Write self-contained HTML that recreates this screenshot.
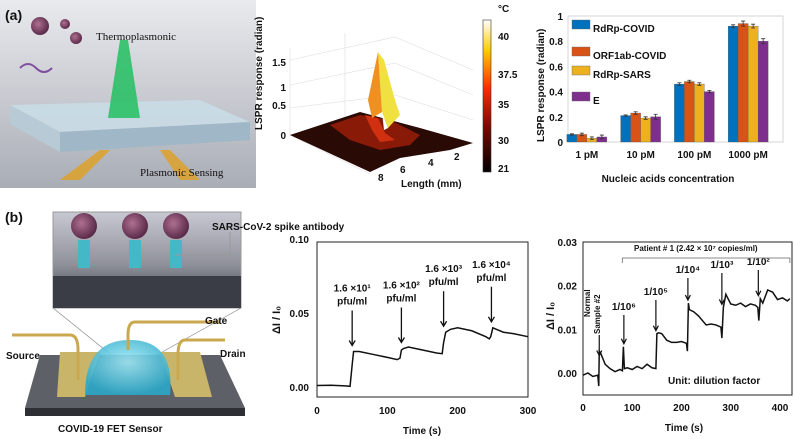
<!DOCTYPE html>
<html><head><meta charset="utf-8"><style>
html,body{margin:0;padding:0;background:#fff;width:794px;height:439px;overflow:hidden;font-family:"Liberation Sans",Arial,sans-serif}
svg{position:absolute;left:0;top:0}
text{font-family:"Liberation Sans",Arial,sans-serif;font-weight:bold;fill:#111}
</style></head><body>
<svg id="fig" width="794" height="439" viewBox="0 0 794 439">
<defs>
<linearGradient id="bgA" x1="0" y1="0" x2="0" y2="1"><stop offset="0" stop-color="#e9eaee"/><stop offset="1" stop-color="#a9adb5"/></linearGradient>
<linearGradient id="cbar" x1="0" y1="1" x2="0" y2="0"><stop offset="0" stop-color="#000"/><stop offset="0.3" stop-color="#7a0a00"/><stop offset="0.55" stop-color="#ff2a00"/><stop offset="0.8" stop-color="#ffcc00"/><stop offset="1" stop-color="#ffffff"/></linearGradient>
<linearGradient id="inset" x1="0" y1="0" x2="0" y2="1"><stop offset="0" stop-color="#c8c8d2"/><stop offset="0.55" stop-color="#8e909a"/><stop offset="1" stop-color="#3a3c44"/></linearGradient>
<radialGradient id="drop" cx="0.5" cy="0.4" r="0.6"><stop offset="0" stop-color="#9fe8f5"/><stop offset="1" stop-color="#2aa8c8"/></radialGradient>
<radialGradient id="vir" cx="0.4" cy="0.4" r="0.6"><stop offset="0" stop-color="#b07090"/><stop offset="1" stop-color="#5a2a4a"/></radialGradient>
</defs>

<g>
<rect x="0" y="0" width="256" height="188" fill="url(#bgA)"/>
<polygon points="10,105 200,100 250,122 60,132" fill="#c9dbe6" opacity="0.9"/>
<polygon points="60,132 250,122 250,140 60,152" fill="#9fb7c6"/>
<polygon points="10,105 60,132 60,152 10,124" fill="#b8cad6"/>
<polygon points="120,40 128,40 140,118 108,118" fill="#22c060" opacity="0.85"/>
<polygon points="60,180 80,180 110,150 100,150" fill="#e0a020" opacity="0.8"/>
<polygon points="180,180 200,180 170,150 160,150" fill="#e0a020" opacity="0.8"/>
<circle cx="40" cy="26" r="9" fill="url(#vir)"/><circle cx="65" cy="24" r="5" fill="url(#vir)"/><circle cx="76" cy="38" r="6" fill="url(#vir)"/>
<path d="M20 68 q8 -8 16 0 t16 0" stroke="#8050a0" stroke-width="2" fill="none"/>
<text x="5" y="20" font-size="14">(a)</text>
<text x="96" y="40" font-size="11" style="font-weight:normal;font-family:'Liberation Serif',serif" fill="#222">Thermoplasmonic</text>
<text x="140" y="176" font-size="11" style="font-weight:normal;font-family:'Liberation Serif',serif" fill="#222">Plasmonic Sensing</text>
</g>

<g>
<g stroke="#ddd" stroke-width="0.6" fill="none">
<line x1="290" y1="48" x2="290" y2="135"/><line x1="290" y1="135" x2="370" y2="174"/>
<line x1="290" y1="135" x2="395" y2="120"/><line x1="290" y1="108" x2="395" y2="95"/><line x1="290" y1="85" x2="395" y2="63"/><line x1="290" y1="60" x2="395" y2="37"/>
<line x1="395" y1="37" x2="473" y2="70"/><line x1="395" y1="63" x2="473" y2="95"/><line x1="395" y1="95" x2="473" y2="120"/>
<line x1="345" y1="33" x2="345" y2="120"/>
</g>
<polygon points="290,135 360,112 420,128 473,143 450,150 400,158 370,172" fill="#2a0a05"/>
<polygon points="330,125 360,115 390,120 420,135 410,145 380,150 350,140" fill="#8a1a08"/>
<polygon points="365,115 378,118 385,133 395,140 380,142 372,130" fill="#d03010"/>
<polygon points="378,52 384,60 395,100 400,115 388,128 382,112" fill="#f0e040"/>
<polygon points="378,52 382,112 372,118 368,100" fill="#f09020"/>
<polygon points="382,112 388,128 384,130" fill="#fff"/>
<text x="286" y="139" font-size="10" text-anchor="end">0</text>
<text x="286" y="109" font-size="10" text-anchor="end">0.5</text>
<text x="286" y="91" font-size="10" text-anchor="end">1</text>
<text x="286" y="66" font-size="10" text-anchor="end">1.5</text>
<text x="378" y="181" font-size="10">8</text><text x="400" y="173" font-size="10">6</text><text x="428" y="166" font-size="10">4</text><text x="454" y="160" font-size="10">2</text>
<text x="401" y="187" font-size="10">Length (mm)</text>
<text transform="translate(262,130) rotate(-90)" font-size="10">LSPR response  (radian)</text>
<rect x="483" y="20" width="8" height="152" fill="url(#cbar)" stroke="#333" stroke-width="0.6"/>
<text x="498" y="12" font-size="10">°C</text>
<text x="498" y="40" font-size="10">40</text><text x="498" y="78" font-size="10">37.5</text>
<text x="498" y="108" font-size="10">35</text><text x="498" y="144" font-size="10">30</text><text x="498" y="172" font-size="10">21</text>
</g>

<g id="bars"></g>

<g>
<text x="5" y="222" font-size="14">(b)</text>
<rect x="53" y="212" width="188" height="96" fill="url(#inset)" stroke="#999"/>
<rect x="53" y="276" width="188" height="32" fill="#3a3d46"/>
<g fill="url(#vir)"><circle cx="84" cy="226" r="13"/><circle cx="135" cy="226" r="13"/><circle cx="176" cy="226" r="13"/></g>
<g fill="#45b8c8"><rect x="78" y="240" width="12" height="28"/><rect x="129" y="240" width="12" height="28"/><rect x="170" y="240" width="12" height="28"/></g>
<polyline points="230,232 230,255 175,255" fill="none" stroke="#999"/>
<text x="212" y="230" font-size="10">SARS-CoV-2 spike antibody</text>
<line x1="53" y1="308" x2="130" y2="370" stroke="#888" stroke-width="0.7"/><line x1="241" y1="308" x2="130" y2="370" stroke="#888" stroke-width="0.7"/>
<polygon points="40,355 220,355 245,408 25,408" fill="#5e6068"/>
<rect x="25" y="408" width="220" height="8" fill="#2d2f35"/>
<polygon points="60,352 100,352 85,397 57,397" fill="#c9b56a"/>
<polygon points="160,352 200,352 212,397 175,397" fill="#c9b56a"/>
<path d="M85 395 Q85 340 130 340 Q175 340 170 395 Z" fill="url(#drop)" opacity="0.9"/>
<path d="M12 335 L70 335 Q78 335 78 350 L78 380" stroke="#c9a850" stroke-width="3" fill="none"/>
<path d="M225 340 L185 340 Q178 340 178 355 L178 380" stroke="#c9a850" stroke-width="3" fill="none"/>
<path d="M220 322 L135 322 Q128 322 128 335 L128 350" stroke="#c9a850" stroke-width="3" fill="none"/>
<text x="6" y="359" font-size="10">Source</text>
<text x="205" y="324" font-size="10">Gate</text>
<text x="220" y="357" font-size="10">Drain</text>
<text x="58" y="432" font-size="10">COVID-19 FET Sensor</text>
</g>

<g id="mid"></g>
<g id="right"></g>
</svg>
<script>
const NS="http://www.w3.org/2000/svg";
function mk(p,tag,a,txt){const e=document.createElementNS(NS,tag);for(const k in a)e.setAttribute(k,a[k]);if(txt!==undefined)e.textContent=txt;p.appendChild(e);return e;}
function peakNear(ts,vs,t0,t1){let m=-Infinity;ts.forEach((t,i)=>{if(t>=t0&&t<=t1&&vs[i]>m)m=vs[i];});return m;}

const barCategories=["1 pM","10 pM","100 pM","1000 pM"];
const seriesNames=["RdRp-COVID","ORF1ab-COVID","RdRp-SARS","E"];
const rdrpCovid=[0.06,0.21,0.46,0.92];
const orf1abCovid=[0.06,0.23,0.48,0.94];
const rdrpSars=[0.03,0.19,0.46,0.92];
const eGene=[0.04,0.20,0.40,0.80];
const barErrors=[[0.005,0.005,0.01,0.01],[0.01,0.01,0.01,0.02],[0.01,0.01,0.01,0.015],[0.015,0.02,0.01,0.02]];
const barTicks=[0,0.2,0.4,0.6,0.8,1];

const midTime=[0,20,40,47,50,52,60,80,100,114,118,120,123,130,150,170,178,180,183,190,200,220,240,245,247,250,255,265,280,300];
const midResp=[0.0010,0.0012,0.0008,0.0005,0.015,0.024,0.024,0.022,0.020,0.0185,0.0195,0.025,0.026,0.027,0.025,0.023,0.0225,0.030,0.037,0.039,0.040,0.038,0.034,0.0325,0.034,0.040,0.039,0.037,0.036,0.034];
const midXTicks=[0,100,200,300];
const midYTicks=[0.00,0.05,0.10];
const midLabels=[["1.6 ×10¹","pfu/ml",50],["1.6 ×10²","pfu/ml",120],["1.6 ×10³","pfu/ml",180],["1.6 ×10⁴","pfu/ml",248]];

const rTime=[0,10,20,30,32,33,36,45,55,65,75,80,82,84,90,100,110,120,130,140,148,150,153,160,170,180,190,200,210,212,214,216,225,235,250,260,270,280,282,285,290,300,310,320,330,340,350,355,357,360,365,375,385,395,405,415,420];
const rResp=[-0.0005,0.0,-0.0008,-0.0005,-0.003,0.005,0.0045,0.002,0.001,0.0003,0.0008,0.0005,0.006,0.001,0.0012,0.0008,0.0015,0.001,0.002,0.0012,0.001,0.009,0.0092,0.009,0.0075,0.007,0.007,0.0072,0.0068,0.005,0.016,0.0145,0.014,0.013,0.011,0.0112,0.011,0.0105,0.008,0.015,0.018,0.0158,0.0155,0.016,0.0152,0.0158,0.0155,0.015,0.012,0.017,0.016,0.019,0.0185,0.0168,0.0172,0.0165,0.017];
const rXTicks=[0,100,200,300,400];
const rYTicks=[0.00,0.01,0.02,0.03];
const rArrows=[["1/10⁶",83],["1/10⁵",148],["1/10⁴",213],["1/10³",282],["1/10²",356]];

(function(){
const g=document.getElementById("bars");
const x0=568,x1=783,yTop=16,yBot=142;
const y=v=>yBot-(v/1)*(yBot-yTop);
const groupW=(x1-x0)/barCategories.length;
const gx=i=>x0+groupW*(i+0.5)-8;
const colors=["#0072bd","#d95319","#edb120","#7e2f8e"];
const series=[rdrpCovid,orf1abCovid,rdrpSars,eGene];
const bw=10;
mk(g,"rect",{x:x0,y:yTop,width:x1-x0,height:yBot-yTop,fill:"none",stroke:"#bbb","stroke-width":0.6});
barTicks.forEach(t=>{const tl=mk(g,"text",{x:x0-5,y:y(t)+4,"font-size":10,"text-anchor":"end"},String(t));

});
barCategories.forEach((c,i)=>{const tl=mk(g,"text",{x:gx(i),y:yBot+16,"font-size":10,"text-anchor":"middle"},c);


series.forEach((s,j)=>{const bx=gx(i)+(j-2)*bw;
const r=mk(g,"rect",{x:bx,y:y(s[i]),width:bw,height:yBot-y(s[i]),fill:colors[j],stroke:"#555","stroke-width":0.3});


const e=barErrors[j][i],cx=bx+bw/2;
mk(g,"path",{d:`M${cx} ${y(s[i]+e)}V${y(s[i]-e)}M${cx-2} ${y(s[i]+e)}h4M${cx-2} ${y(s[i]-e)}h4`,stroke:"#333","stroke-width":0.8,fill:"none"});});});
const ly=[32,59,78,104];
seriesNames.forEach((n,j)=>{const r=mk(g,"rect",{x:572,y:ly[j]-12,width:18,height:9,fill:colors[j],stroke:"#666","stroke-width":0.4});


const t=mk(g,"text",{x:593,y:ly[j],"font-size":10},n);

});
const xt=mk(g,"text",{x:668,y:182,"font-size":10,"text-anchor":"middle"},"Nucleic acids concentration");


const yt=mk(g,"text",{transform:"translate(544,142) rotate(-90)","font-size":10},"LSPR response  (radian)");


})();

(function(){
const g=document.getElementById("mid");
const x0=317,x1=528,yTop=242,yBot=397;
const x=t=>x0+t/300*(x1-x0);
const y=v=>387-v/0.05*74;
mk(g,"rect",{x:x0,y:yTop,width:x1-x0,height:yBot-yTop,fill:"none",stroke:"#222","stroke-width":1});
midXTicks.forEach(t=>{const tl=mk(g,"text",{x:x(t),y:yBot+17,"font-size":10,"text-anchor":"middle"},String(t));

});
midYTicks.forEach(t=>{const tl=mk(g,"text",{x:x0-8,y:y(t)+4,"font-size":10,"text-anchor":"end"},t.toFixed(2));

});
const line=mk(g,"polyline",{points:midTime.map((t,i)=>x(t)+","+y(midResp[i])).join(" "),fill:"none",stroke:"#111","stroke-width":1.5});


midLabels.forEach(l=>{const ax=x(l[2]);const ay=y(peakNear(midTime,midResp,l[2],l[2]+3))-6;
const ty=ay-40;
mk(g,"text",{x:ax,y:ty-14,"font-size":10,"text-anchor":"middle"},l[0]);
mk(g,"text",{x:ax,y:ty-1,"font-size":10,"text-anchor":"middle"},l[1]);
const a=mk(g,"path",{d:`M${ax} ${ty+5}V${ay}M${ax-3} ${ay-5}L${ax} ${ay}L${ax+3} ${ay-5}`,stroke:"#111","stroke-width":1.3,fill:"none"});

});
const xt=mk(g,"text",{x:422,y:434,"font-size":10,"text-anchor":"middle"},"Time (s)");


const yt=mk(g,"text",{transform:"translate(280,334) rotate(-90)","font-size":11},"ΔI / I₀");


})();

(function(){
const g=document.getElementById("right");
const x0=583,x1=792,yTop=242,yBot=395;
const x=t=>x0+t/400*(780-583);
const y=v=>373-v/0.01*43.7;
const labelY=[310,295,273,268,265];
mk(g,"rect",{x:x0,y:yTop,width:x1-x0,height:yBot-yTop,fill:"none",stroke:"#222","stroke-width":1});
rXTicks.forEach(t=>{const tl=mk(g,"text",{x:x(t),y:yBot+16,"font-size":10,"text-anchor":"middle"},String(t));

});
rYTicks.forEach(t=>{const tl=mk(g,"text",{x:x0-6,y:y(t)+4,"font-size":10,"text-anchor":"end"},t.toFixed(2));

});
const line=mk(g,"polyline",{points:rTime.map((t,i)=>x(t)+","+y(rResp[i])).join(" "),fill:"none",stroke:"#111","stroke-width":1.5});


rArrows.forEach((l,k)=>{const ax=x(l[1]);const ay=y(peakNear(rTime,rResp,l[1]-2,l[1]+4))-3;
const ty=labelY[k];
mk(g,"text",{x:ax,y:ty,"font-size":10,"text-anchor":"middle"},l[0]);
const a=mk(g,"path",{d:`M${ax} ${ty+5}V${ay}M${ax-2.5} ${ay-5}L${ax} ${ay}L${ax+2.5} ${ay-5}`,stroke:"#111","stroke-width":1.2,fill:"none"});

});
const nx=x(33);
mk(g,"path",{d:`M${nx} 335V${y(0.004)}M${nx-2.5} ${y(0.004)-5}L${nx} ${y(0.004)}L${nx+2.5} ${y(0.004)-5}`,stroke:"#111","stroke-width":1.2,fill:"none"});
mk(g,"text",{transform:"translate(590,317) rotate(-90)","font-size":8},"Normal");
mk(g,"text",{transform:"translate(600,334) rotate(-90)","font-size":8},"Sample #2");
mk(g,"path",{d:`M${x(80)} 263V258H${x(420)}V263`,stroke:"#888","stroke-width":1,fill:"none"});
mk(g,"text",{x:634,y:251,"font-size":8},"Patient # 1 (2.42 × 10⁷ copies/ml)");
mk(g,"text",{x:668,y:384,"font-size":10},"Unit: dilution factor");
const xt=mk(g,"text",{x:684,y:431,"font-size":10,"text-anchor":"middle"},"Time (s)");


const yt=mk(g,"text",{transform:"translate(554,330) rotate(-90)","font-size":11},"ΔI / I₀");


})();
</script>
</body></html>
